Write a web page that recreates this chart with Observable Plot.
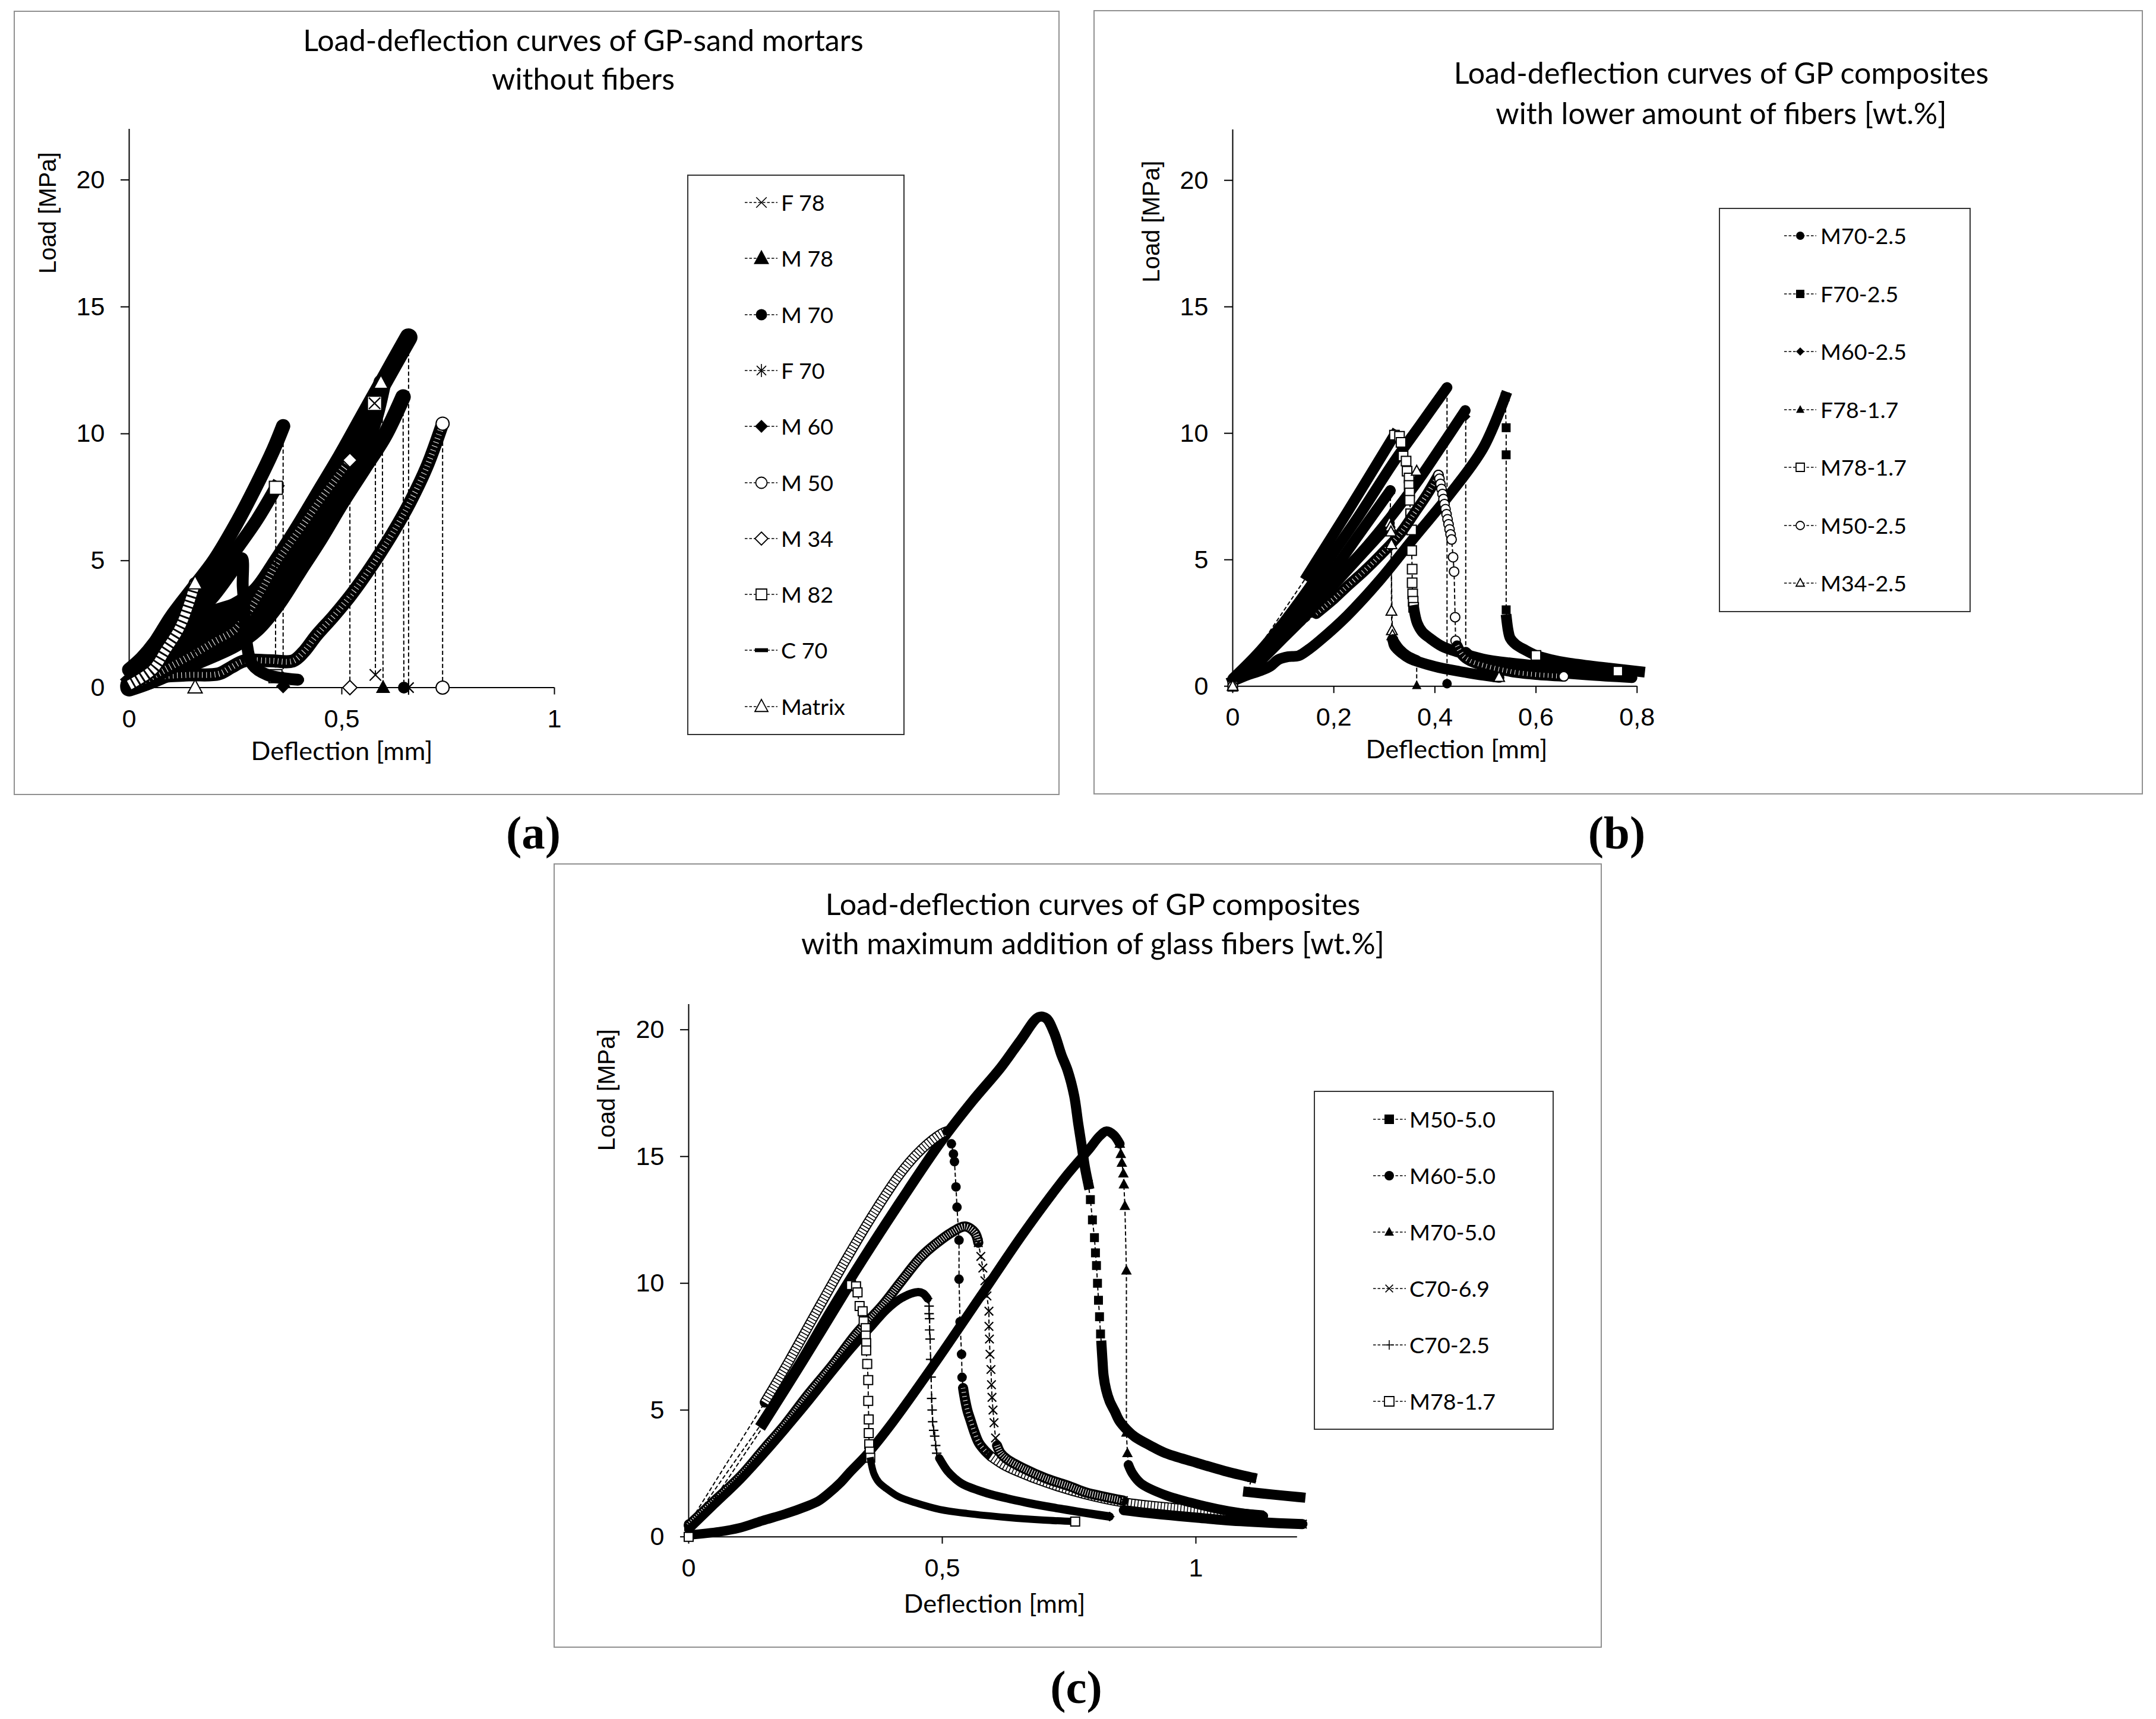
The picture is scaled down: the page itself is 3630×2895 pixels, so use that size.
<!DOCTYPE html>
<html>
<head>
<meta charset="utf-8">
<script src="https://cdn.jsdelivr.net/npm/d3@7"></script>
<script src="https://cdn.jsdelivr.net/npm/@observablehq/plot@0.6"></script>
<style>
html,body{margin:0;padding:0;background:#fff;}
#page{position:relative;width:3630px;height:2895px;background:#fff;overflow:hidden;}
.panel{position:absolute;border:2px solid #909090;box-sizing:border-box;}
.t{position:absolute;white-space:nowrap;line-height:1;color:#000;transform:translate(-50%,-50%);}
.lg{position:absolute;border:2px solid #333;box-sizing:border-box;background:#fff;}
.lt{position:absolute;white-space:nowrap;line-height:1;color:#000;transform:translateY(-50%);font-family:Lato;}
</style>
</head>
<body>
<div id="page"></div>
<script>
// ---------------- DATA ----------------
const yTicks = [0, 5, 10, 15, 20];
const xTicksA = [0, 0.5, 1];
const xTicksB = [0, 0.2, 0.4, 0.6, 0.8];
const xTicksC = [0, 0.5, 1];

const titleA = ["Load-deflection curves of GP-sand mortars", "without fibers"];
const titleB = ["Load-deflection curves of GP composites", "with lower amount of fibers [wt.%]"];
const titleC = ["Load-deflection curves of GP composites", "with maximum addition of glass fibers [wt.%]"];
const panelLabels = ["(a)", "(b)", "(c)"];
const yTitle = "Load [MPa]";
const xTitle = "Deflection [mm]";

const namesA = ["F 78", "M 78", "M 70", "F 70", "M 60", "M 50", "M 34", "M 82", "C 70", "Matrix"];
const namesB = ["M70-2.5", "F70-2.5", "M60-2.5", "F78-1.7", "M78-1.7", "M50-2.5", "M34-2.5"];
const namesC = ["M50-5.0", "M60-5.0", "M70-5.0", "C70-6.9", "C70-2.5", "M78-1.7"];

// panel (a)
const a_F78 = [[0,0.05],[0.05,0.65],[0.1,1.3],[0.15,1.8],[0.2,2.3],[0.25,2.7],[0.3,3.3],[0.33,3.9],[0.38,5.1],[0.43,6.4],[0.48,7.8],[0.53,9.3],[0.579,11.2]];
const a_F78_drop = [[0.579,0.5]];
const a_M78 = [[0,0],[0.05,0.3],[0.1,0.75],[0.15,1.2],[0.2,1.6],[0.25,2.0],[0.3,2.8],[0.35,3.9],[0.4,5.2],[0.45,6.5],[0.5,7.9],[0.55,9.5],[0.575,10.6],[0.595,12.0]];
const a_M78_drop = [[0.597,0]];
const a_M70 = [[0,0],[0.05,0.25],[0.1,0.6],[0.15,0.95],[0.2,1.3],[0.25,1.7],[0.3,2.3],[0.35,3.3],[0.4,4.6],[0.45,5.9],[0.5,7.3],[0.55,8.6],[0.6,9.9],[0.644,11.45]];
const a_M70_drop = [[0.646,0]];
const a_F70 = [[0,0.1],[0.05,0.8],[0.1,1.6],[0.15,2.3],[0.2,2.9],[0.25,3.2],[0.3,3.8],[0.35,5.0],[0.4,6.3],[0.45,7.7],[0.5,9.1],[0.55,10.6],[0.6,12.1],[0.657,13.8]];
const a_F70_drop = [[0.657,0]];
const a_M60 = [[0,0.7],[0.03,1.15],[0.06,1.75],[0.1,2.8],[0.15,3.9],[0.2,5.0],[0.25,6.4],[0.3,8.0],[0.34,9.4],[0.362,10.3]];
const a_M60_drop = [[0.362,0.05]];
const a_M50 = [[0,0],[0.02,0.1],[0.05,0.3],[0.07,0.42],[0.14,0.5],[0.21,0.54],[0.24,0.8],[0.27,1.05],[0.33,1.06],[0.385,1.05],[0.41,1.4],[0.44,2.05],[0.48,2.8],[0.518,3.57],[0.55,4.3],[0.589,5.27],[0.62,6.1],[0.66,7.29],[0.7,8.7],[0.737,10.4]];
const a_M50_drop = [[0.737,0]];
const a_M34 = [[0,0],[0.05,0.4],[0.1,0.85],[0.15,1.3],[0.2,1.8],[0.25,2.3],[0.3,3.5],[0.35,5.0],[0.4,6.2],[0.45,7.4],[0.519,8.96]];
const a_M34_drop = [[0.519,0]];
const a_M82 = [[0,0.3],[0.05,1.1],[0.1,2.1],[0.15,3.1],[0.2,4.2],[0.25,5.4],[0.3,6.6],[0.345,7.87]];
const a_M82_drop = [[0.344,0.45]];
const a_C70 = [[0,0.1],[0.05,0.9],[0.1,1.8],[0.15,2.7],[0.2,3.6],[0.24,4.5],[0.265,5.1],[0.267,4.0],[0.27,3.35],[0.276,1.8],[0.29,0.9],[0.325,0.5],[0.397,0.31]];
const a_Matrix = [[0,0.1],[0.055,0.7],[0.085,1.45],[0.12,2.4],[0.142,3.38],[0.155,4.1]];
const a_Matrix_drop = [[0.155,0]];
const a_extraSquare = [[0.577,11.2]];
const a_extraTimes = [[0.577,11.2]];
const a_extraTriangle = [[0.592,12.0]];

// panel (b)
const b_M70 = [[0,0.3],[0.05,1.3],[0.1,2.5],[0.15,3.85],[0.2,5.3],[0.25,6.75],[0.32,8.9],[0.37,10.3],[0.424,11.81]];
const b_M70_drop = [[0.424,0.1]];
const b_F70_rise = [[0,0.2],[0.03,0.45],[0.057,0.63],[0.075,0.8],[0.09,1.05],[0.11,1.17],[0.13,1.2],[0.15,1.45],[0.172,1.8],[0.226,2.78],[0.293,4.24],[0.36,5.9],[0.428,7.55],[0.495,9.4],[0.539,11.44]];
const b_F70_drop = [[0.541,10.22],[0.541,9.15],[0.541,3.02]];
const b_F70_tail = [[0.542,2.63],[0.545,2.2],[0.549,1.9],[0.56,1.65],[0.576,1.46],[0.6,1.22],[0.63,1.05],[0.663,0.92],[0.73,0.75],[0.805,0.58]];
const b_M60 = [[0,0.25],[0.05,1.1],[0.1,2.05],[0.15,3.1],[0.2,4.15],[0.266,5.55],[0.36,7.94],[0.41,9.4],[0.46,10.9]];
const b_M60_drop = [[0.461,10.66]];
const b_M60_tail = [[0.461,1.35],[0.47,1.2],[0.5,0.95],[0.55,0.75],[0.6,0.62],[0.7,0.45],[0.79,0.34]];
const b_F78_rise = [[0,0.2],[0.05,1.0],[0.1,2.1],[0.15,3.3],[0.2,4.6],[0.25,6.0],[0.312,7.74]];
const b_F78_drop = [[0.312,6.86],[0.313,5.7]];
const b_F78_tail = [[0.316,1.85],[0.33,1.45],[0.345,1.2],[0.364,1.02]];
const b_F78_end = [[0.364,0.03]];
const b_M50_start = [[0,0]];
const b_M50_rise = [[0.165,2.87],[0.2,3.45],[0.226,3.94],[0.26,4.55],[0.293,5.2],[0.33,6.0],[0.36,6.86],[0.385,7.6],[0.407,8.35]];
const b_M50_drop = [[0.409,8.2],[0.411,8.0],[0.413,7.8],[0.415,7.6],[0.417,7.4],[0.419,7.2],[0.421,7.0],[0.423,6.8],[0.425,6.6],[0.427,6.4],[0.429,6.2],[0.431,6.0],[0.433,5.8],[0.436,5.1],[0.438,4.53],[0.44,2.73],[0.441,1.8]];
const b_M50_tail = [[0.444,1.6],[0.455,1.22],[0.47,1.0],[0.495,0.83],[0.53,0.66],[0.562,0.54],[0.6,0.46],[0.655,0.39]];
const b_M34_start = [[0,0]];
const b_M34_rise = [[0.03,0.5],[0.05,0.9],[0.1,1.9],[0.15,2.9],[0.2,4.0],[0.25,5.1],[0.3,6.2],[0.31,6.45]];
const b_M34_drop = [[0.312,6.3],[0.313,6.1],[0.314,5.6],[0.314,2.97],[0.315,2.2],[0.316,2.0]];
const b_M34_tail = [[0.317,1.85],[0.32,1.6],[0.335,1.3],[0.35,1.1],[0.4,0.78],[0.45,0.58],[0.49,0.45],[0.527,0.35]];
const b_extraTriangle = [[0.364,8.5]];
const b_extraSquare = [[0.6,1.22]];

// M78-1.7 (same specimen in (b) and (c))
const m78_start = [[0,0]];
const m78_rise = [[0.148,4.38],[0.226,6.86],[0.32,9.93]];
const m78_drop = [[0.33,9.88],[0.333,9.64],[0.337,9.1],[0.343,8.9],[0.345,8.5],[0.349,8.23],[0.349,7.94],[0.35,7.64],[0.35,7.35],[0.352,6.82],[0.354,6.18],[0.354,5.36],[0.355,4.63],[0.355,4.09],[0.356,3.65],[0.357,3.36],[0.358,3.12]];
const m78_tail = [[0.359,3.0],[0.365,2.5],[0.375,2.15],[0.39,1.9],[0.414,1.58],[0.446,1.35],[0.495,1.08],[0.549,0.92],[0.63,0.76],[0.7,0.66],[0.762,0.6]];

// panel (c)
const c_M50_start = [[0,0.4]];
const c_M50_rise = [[0.145,4.5],[0.217,6.76],[0.28,8.9],[0.342,10.9],[0.42,13.3],[0.498,15.6],[0.56,17.2],[0.615,18.5],[0.655,19.6],[0.69,20.5],[0.705,20.45],[0.72,19.9],[0.735,19.0],[0.747,18.4],[0.76,17.4],[0.768,16.3],[0.775,15.4],[0.781,14.6],[0.788,13.9]];
const c_M50_drop = [[0.792,13.3],[0.796,12.5],[0.8,11.8],[0.802,11.2],[0.804,10.7],[0.806,10.0],[0.808,9.33],[0.81,8.68],[0.812,8.0]];
const c_M50_tail = [[0.814,7.54],[0.816,6.9],[0.818,6.36],[0.823,5.8],[0.83,5.35],[0.84,4.95],[0.849,4.58],[0.865,4.2],[0.88,3.94],[0.91,3.6],[0.939,3.31],[1.0,2.93],[1.056,2.6],[1.11,2.34]];
const c_M50_tail2 = [[1.103,1.77],[1.15,1.67],[1.206,1.56]];
const c_M60_start = [[0,0.5]];
const c_M60_rise = [[0.15,5.3],[0.193,6.76],[0.25,8.8],[0.303,10.68],[0.36,12.6],[0.42,14.4],[0.46,15.3],[0.498,15.9],[0.51,16.0]];
const c_M60_drop = [[0.518,15.5],[0.522,15.1],[0.524,14.8],[0.527,13.8],[0.529,13.0],[0.533,11.7],[0.533,10.16],[0.535,8.48],[0.538,7.2],[0.539,6.29]];
const c_M60_tail = [[0.541,5.87],[0.545,5.4],[0.55,4.95],[0.556,4.58],[0.563,4.15],[0.572,3.71],[0.584,3.4],[0.596,3.17]];
const c_M60_tail2 = [[0.596,3.17],[0.62,2.85],[0.646,2.6],[0.705,2.14],[0.783,1.67],[0.857,1.36],[0.95,1.15],[1.05,0.98],[1.13,0.85]];
const c_M70_rise = [[0,0.07],[0.06,0.2],[0.1,0.35],[0.146,0.64],[0.19,0.9],[0.232,1.2],[0.255,1.4],[0.275,1.7],[0.3,2.15],[0.318,2.55],[0.352,3.26],[0.403,4.54],[0.489,6.95],[0.576,9.5],[0.661,12.0],[0.747,14.3],[0.79,15.3],[0.81,15.8],[0.824,16.0],[0.838,15.85],[0.85,15.5]];
const c_M70_drop = [[0.852,15.1],[0.854,14.75],[0.857,14.33],[0.858,13.9],[0.86,13.05],[0.863,10.5],[0.863,4.11],[0.865,3.3]];
const c_M70_tail = [[0.867,2.84],[0.875,2.5],[0.892,2.1],[0.939,1.65],[1.0,1.3],[1.056,1.05],[1.133,0.82]];
const c_C69_rise = [[0,0.45],[0.05,1.4],[0.103,2.4],[0.15,3.5],[0.189,4.4],[0.235,5.6],[0.283,6.76],[0.33,8.0],[0.381,9.1],[0.42,10.1],[0.459,11.06],[0.49,11.6],[0.518,12.0],[0.545,12.24],[0.564,12.0],[0.571,11.6]];
const c_C69_drop = [[0.576,11.06],[0.58,10.6],[0.584,10.1],[0.588,9.5],[0.592,8.9],[0.592,8.3],[0.593,7.8],[0.594,7.2],[0.596,6.6],[0.597,6.0],[0.598,5.5],[0.6,5.0],[0.602,4.5],[0.605,3.9]];
const c_C69_tail = [[0.608,3.6],[0.615,3.3],[0.627,3.07],[0.66,2.7],[0.705,2.3],[0.75,2.0],[0.783,1.75],[0.82,1.58],[0.857,1.43]];
const c_C69_tail2 = [[0.858,1.05],[0.9,0.95],[0.95,0.85],[1.0,0.76],[1.056,0.66],[1.13,0.57],[1.21,0.5]];
const c_C25_rise = [[0,0.28],[0.05,1.25],[0.103,2.27],[0.15,3.3],[0.189,4.2],[0.235,5.3],[0.275,6.3],[0.32,7.4],[0.362,8.33],[0.39,8.95],[0.42,9.42],[0.451,9.65],[0.462,9.6],[0.471,9.4]];
const c_C25_drop = [[0.474,9.1],[0.474,8.8],[0.475,8.6],[0.475,8.16],[0.476,7.8],[0.477,7.0],[0.478,6.3],[0.479,5.46],[0.48,5.0],[0.481,4.54],[0.483,4.2],[0.485,3.97],[0.487,3.6],[0.489,3.3]];
const c_C25_tail = [[0.494,3.1],[0.51,2.6],[0.525,2.3],[0.541,2.07],[0.588,1.72],[0.627,1.52],[0.666,1.35],[0.705,1.2],[0.744,1.07],[0.79,0.92],[0.83,0.8]];

// ---------------- RENDERING ----------------
const page = document.getElementById("page");
const X = d => d[0], Y = d => d[1];

const SYM = {
  square: {draw(c, s) { const r = Math.sqrt(s / Math.PI); c.moveTo(-r, -r); c.lineTo(r, -r); c.lineTo(r, r); c.lineTo(-r, r); c.closePath(); }},
  circle: {draw(c, s) { const r = Math.sqrt(s / Math.PI); c.moveTo(r, 0); c.arc(0, 0, r, 0, 2 * Math.PI); c.closePath(); }},
  triangle: {draw(c, s) { const r = Math.sqrt(s / Math.PI); c.moveTo(0, -1.1 * r); c.lineTo(r, 0.75 * r); c.lineTo(-r, 0.75 * r); c.closePath(); }},
  diamond: {draw(c, s) { const r = Math.sqrt(s / Math.PI); c.moveTo(0, -r); c.lineTo(r, 0); c.lineTo(0, r); c.lineTo(-r, 0); c.closePath(); }},
  times: {draw(c, s) { const r = 0.8 * Math.sqrt(s / Math.PI); c.moveTo(-r, -r); c.lineTo(r, r); c.moveTo(r, -r); c.lineTo(-r, r); }},
  plus: {draw(c, s) { const r = Math.sqrt(s / Math.PI); c.moveTo(-r, 0); c.lineTo(r, 0); c.moveTo(0, -r); c.lineTo(0, r); }},
  asterisk: {draw(c, s) { const r = Math.sqrt(s / Math.PI), q = 0.72 * r; c.moveTo(-q, -q); c.lineTo(q, q); c.moveTo(q, -q); c.lineTo(-q, q); c.moveTo(0, -r); c.lineTo(0, r); }},
  dash: {draw(c, s) { const r = Math.sqrt(s / Math.PI), h = 0.3 * r; c.moveTo(-r, -h); c.lineTo(r, -h); c.lineTo(r, h); c.lineTo(-r, h); c.closePath(); }}
};
const STROKE_ONLY = new Set(["times", "plus", "asterisk"]);

const ctx2d = document.createElement("canvas").getContext("2d");
function fitSize(text, font, target) { ctx2d.font = "100px " + font; return 100 * target / ctx2d.measureText(text).width; }
const titlePx = fitSize(titleB[0], "Lato", 903);
const legPx = fitSize("M50-5.0", "Lato", 145);
const xlabPx = fitSize(xTitle, "Lato", 306);
const ylabPx = fitSize(yTitle, "'Liberation Sans'", 205);
const tickPx = fitSize("20", "'Liberation Sans'", 48);
const plabPx = (() => { ctx2d.font = "bold 100px 'Liberation Serif'"; return 100 * 92 / ctx2d.measureText("(a)").width; })();

function dotMark(pts, s) {
  const so = STROKE_ONLY.has(s.sym);
  return Plot.dot(pts, {x: X, y: Y, symbol: SYM[s.sym], r: s.r,
    fill: so ? "none" : (s.open ? "#fff" : "#000"),
    stroke: so || s.open ? "#000" : "none", strokeWidth: so ? 2.2 : 2});
}
function bandMarks(pts, w, tex, cap) {
  const o = {x: X, y: Y, curve: "catmull-rom", strokeLinecap: "butt"};
  const m = [Plot.line(pts, {x: X, y: Y, curve: "catmull-rom", stroke: "#000", strokeWidth: w, strokeLinecap: cap, strokeLinejoin: "round"})];
  if (tex === "hatch") m.push(Plot.line(pts, {...o, stroke: "#fff", strokeWidth: w * 0.45, strokeDasharray: "1,6"}));
  if (tex === "dense") m.push(Plot.line(pts, {...o, stroke: "#fff", strokeWidth: w * 0.6, strokeDasharray: "1.2,3"}));
  if (tex === "light") m.push(Plot.line(pts, {...o, stroke: "#fff", strokeWidth: w - 4, strokeDasharray: "4,1.6"}));
  if (tex === "ladder") m.push(Plot.line(pts, {...o, stroke: "#fff", strokeWidth: w - 6, strokeDasharray: "6,3"}));
  return m;
}
function seriesMarks(s, G) {
  const out = [];
  const all = s.pieces.flatMap(p => p[1]);
  out.push(Plot.line(all, {x: X, y: Y, stroke: "#000", strokeWidth: 2, strokeDasharray: "7,4", strokeLinecap: "butt"}));
  for (const p of s.pieces) {
    const [kind, pts] = p;
    if (kind === "band") {
      const tex = p[2] !== undefined ? p[2] : s.tex;
      out.push(...bandMarks(pts, s.w || G.w, tex, s.sym === "square" ? "square" : "round"));
      out.push(dotMark([pts[pts.length - 1]], s));
    } else {
      out.push(dotMark(pts, s));
    }
  }
  return out;
}

function buildPlot(G, series, extras) {
  const ML = 230, MR = 40, MT = 30, MB = 200;
  const fw = G.kx * G.xmax, fh = G.ky * G.ymax;
  const marks = [
    Plot.ruleX([0], {y1: 0, y2: G.ymax, stroke: "#000", strokeWidth: 2}),
    Plot.ruleY([0], {x1: 0, x2: G.xmax, stroke: "#000", strokeWidth: 2}),
    Plot.axisX({ticks: G.xticks, tickFormat: d => String(d).replace(".", ","), tickSize: 12, tickPadding: 24, strokeWidth: 2, label: null}),
    Plot.axisY({ticks: yTicks, tickFormat: d => String(d), tickSize: 14, tickPadding: 27, strokeWidth: 2, label: null})
  ];
  for (const s of series) marks.push(...seriesMarks(s, G));
  for (const e of extras) marks.push(dotMark(e.pts, e));
  marks.push(Plot.text([yTitle], {frameAnchor: "left", text: d => d, rotate: -90,
    dx: G.ylab[0] - G.x0, dy: G.ylab[1] - (G.y0 - fh / 2), fontSize: ylabPx, fontFamily: "Liberation Sans", fill: "#000"}));
  marks.push(Plot.text([xTitle], {frameAnchor: "bottom", text: d => d,
    dx: G.xlab[0] - (G.x0 + fw / 2), dy: G.xlab[1] - G.y0, fontSize: xlabPx, fontFamily: "Lato", fill: "#000"}));
  const svg = Plot.plot({
    width: ML + fw + MR, height: MT + fh + MB,
    marginLeft: ML, marginRight: MR, marginTop: MT, marginBottom: MB,
    x: {domain: [0, G.xmax]}, y: {domain: [0, G.ymax]},
    style: {fontFamily: "'Liberation Sans', Arial, sans-serif", fontSize: tickPx + "px", background: "none", overflow: "visible", maxWidth: "none", color: "#000"},
    marks
  });
  svg.style.position = "absolute";
  svg.style.left = (G.x0 - ML) + "px";
  svg.style.top = (G.y0 - fh - MT) + "px";
  page.appendChild(svg);
}

function buildLegend(L, series) {
  const box = document.createElement("div");
  box.className = "lg";
  Object.assign(box.style, {left: L.left + "px", top: L.top + "px", width: L.w + "px", height: L.h + "px"});
  page.appendChild(box);
  series.forEach((s, i) => {
    const cy = L.y0 + i * L.dy;
    const len = L.lx2 - L.lx1;
    const svg = d3.create("svg").attr("width", len + 40).attr("height", 60)
      .style("position", "absolute").style("left", (L.lx1 - 20) + "px").style("top", (cy - 30) + "px").style("overflow", "visible");
    svg.append("line").attr("x1", 20).attr("x2", 20 + len).attr("y1", 30).attr("y2", 30)
      .attr("stroke", "#000").attr("stroke-width", 1.6).attr("stroke-dasharray", "4.5,3");
    const r = s.lr || L.r;
    const so = STROKE_ONLY.has(s.sym);
    svg.append("path").attr("d", d3.symbol(SYM[s.sym], Math.PI * r * r)())
      .attr("transform", `translate(${20 + L.mx - L.lx1},30)`)
      .attr("fill", so ? "none" : (s.open ? "#fff" : "#000"))
      .attr("stroke", so || s.open ? "#000" : "none").attr("stroke-width", so ? 1.6 : 1.8);
    page.appendChild(svg.node());
    const t = document.createElement("div");
    t.className = "lt";
    t.textContent = s.name;
    Object.assign(t.style, {left: L.tx + "px", top: cy + "px", fontSize: legPx + "px"});
    page.appendChild(t);
  });
}

function addText(txt, x, y, size, family, weight) {
  const d = document.createElement("div");
  d.className = "t";
  d.textContent = txt;
  Object.assign(d.style, {left: x + "px", top: y + "px", fontSize: size + "px", fontFamily: family, fontWeight: weight || "normal"});
  page.appendChild(d);
}
function addPanel(l, t, r, b) {
  const d = document.createElement("div");
  d.className = "panel";
  Object.assign(d.style, {left: l + "px", top: t + "px", width: (r - l) + "px", height: (b - t) + "px"});
  page.appendChild(d);
}

// series configs
const seriesA = [
  {name: namesA[0], sym: "times", r: 12, w: 30, pieces: [["band", a_F78], ["marks", a_F78_drop]]},
  {name: namesA[1], sym: "triangle", r: 12, lr: 13, w: 30, pieces: [["band", a_M78], ["marks", a_M78_drop]]},
  {name: namesA[2], sym: "circle", r: 10, lr: 9.5, w: 26, pieces: [["band", a_M70], ["marks", a_M70_drop]]},
  {name: namesA[3], sym: "asterisk", r: 12, w: 30, pieces: [["band", a_F70], ["marks", a_F70_drop]]},
  {name: namesA[4], sym: "diamond", r: 12, w: 24, pieces: [["band", a_M60], ["marks", a_M60_drop]]},
  {name: namesA[5], sym: "circle", open: true, r: 11, lr: 9.5, w: 22, tex: "hatch", pieces: [["band", a_M50], ["marks", a_M50_drop]]},
  {name: namesA[6], sym: "diamond", open: true, r: 12, w: 26, tex: "hatch", pieces: [["band", a_M34], ["marks", a_M34_drop]]},
  {name: namesA[7], sym: "square", open: true, r: 11, lr: 9, w: 22, pieces: [["band", a_M82], ["marks", a_M82_drop]]},
  {name: namesA[8], sym: "dash", r: 10, w: 20, pieces: [["band", a_C70]]},
  {name: namesA[9], sym: "triangle", open: true, r: 12, lr: 11, w: 22, tex: "ladder", pieces: [["band", a_Matrix], ["marks", a_Matrix_drop]]}
];
const extrasA = [
  {pts: a_extraSquare, sym: "square", open: true, r: 12},
  {pts: a_extraTimes, sym: "times", r: 12},
  {pts: a_extraTriangle, sym: "triangle", open: true, r: 12}
];
const seriesB = [
  {name: namesB[0], sym: "circle", r: 8, pieces: [["band", b_M70], ["marks", b_M70_drop]]},
  {name: namesB[1], sym: "square", r: 7.5, pieces: [["band", b_F70_rise], ["marks", b_F70_drop], ["band", b_F70_tail]]},
  {name: namesB[2], sym: "diamond", r: 8, pieces: [["band", b_M60], ["marks", b_M60_drop], ["band", b_M60_tail]]},
  {name: namesB[3], sym: "triangle", r: 8, pieces: [["band", b_F78_rise], ["marks", b_F78_drop], ["band", b_F78_tail], ["marks", b_F78_end]]},
  {name: namesB[4], sym: "square", open: true, r: 8, pieces: [["marks", m78_start], ["band", m78_rise], ["marks", m78_drop], ["band", m78_tail]]},
  {name: namesB[5], sym: "circle", open: true, r: 8, tex: "hatch", pieces: [["marks", b_M50_start], ["band", b_M50_rise], ["marks", b_M50_drop], ["band", b_M50_tail]]},
  {name: namesB[6], sym: "triangle", open: true, r: 9, pieces: [["marks", b_M34_start], ["band", b_M34_rise], ["marks", b_M34_drop], ["band", b_M34_tail]]}
];
const extrasB = [
  {pts: b_extraTriangle, sym: "triangle", open: true, r: 9},
  {pts: b_extraSquare, sym: "square", open: true, r: 8}
];
const seriesC = [
  {name: namesC[0], sym: "square", r: 7.5, w: 17, pieces: [["marks", c_M50_start], ["band", c_M50_rise], ["marks", c_M50_drop], ["band", c_M50_tail], ["band", c_M50_tail2]]},
  {name: namesC[1], sym: "circle", r: 8, w: 17, pieces: [["marks", c_M60_start], ["band", c_M60_rise, "light"], ["marks", c_M60_drop], ["band", c_M60_tail, "hatch"], ["band", c_M60_tail2, "light"]]},
  {name: namesC[2], sym: "triangle", r: 9, w: 16, pieces: [["band", c_M70_rise], ["marks", c_M70_drop], ["band", c_M70_tail]]},
  {name: namesC[3], sym: "times", r: 9, w: 17, pieces: [["band", c_C69_rise, "dense"], ["marks", c_C69_drop], ["band", c_C69_tail, "dense"], ["band", c_C69_tail2]]},
  {name: namesC[4], sym: "plus", r: 8, w: 14, pieces: [["band", c_C25_rise], ["marks", c_C25_drop], ["band", c_C25_tail]]},
  {name: namesC[5], sym: "square", open: true, r: 7.5, w: 12, pieces: [["marks", m78_start], ["band", m78_rise], ["marks", m78_drop], ["band", m78_tail]]}
];

// geometry (page pixels)
const GA = {x0: 217, y0: 1157, xmax: 1, ymax: 22, kx: 716, ky: 42.75, xticks: xTicksA, ylab: [81, 460], xlab: [575, 1279], w: 22};
const GB = {x0: 2075, y0: 1155, xmax: 0.8, ymax: 22, kx: 851, ky: 42.6, xticks: xTicksB, ylab: [1939, 475], xlab: [2452, 1276], w: 18};
const GC = {x0: 1159, y0: 2588, xmax: 1.2, ymax: 21, kx: 854, ky: 42.7, xticks: xTicksC, ylab: [1022, 1938], xlab: [1674, 2716], w: 16};

addPanel(23, 18, 1784, 1339);
addPanel(1841, 17, 3608, 1338);
addPanel(932, 1454, 2697, 2775);

buildPlot(GA, seriesA, extrasA);
buildPlot(GB, seriesB, extrasB);
buildPlot(GC, seriesC, []);

buildLegend({left: 1157, top: 294, w: 366, h: 944, y0: 341, dy: 94.3, lx1: 1254, lx2: 1309, mx: 1282, tx: 1315, r: 11}, seriesA);
buildLegend({left: 2894, top: 350, w: 424, h: 681, y0: 397, dy: 97.5, lx1: 3004, lx2: 3058, mx: 3031, tx: 3065, r: 7}, seriesB);
buildLegend({left: 2212, top: 1837, w: 404, h: 571, y0: 1885, dy: 95, lx1: 2312, lx2: 2367, mx: 2339, tx: 2373, r: 8}, seriesC);

addText(titleA[0], 982, 67, titlePx, "Lato");
addText(titleA[1], 982, 132, titlePx, "Lato");
addText(titleB[0], 2898, 122, titlePx, "Lato");
addText(titleB[1], 2898, 190, titlePx, "Lato");
addText(titleC[0], 1840, 1522, titlePx, "Lato");
addText(titleC[1], 1840, 1588, titlePx, "Lato");

addText(panelLabels[0], 898, 1403, plabPx, "'Liberation Serif'", "bold");
addText(panelLabels[1], 2722, 1403, plabPx, "'Liberation Serif'", "bold");
addText(panelLabels[2], 1812, 2842, plabPx, "'Liberation Serif'", "bold");
</script>
</body>
</html>
